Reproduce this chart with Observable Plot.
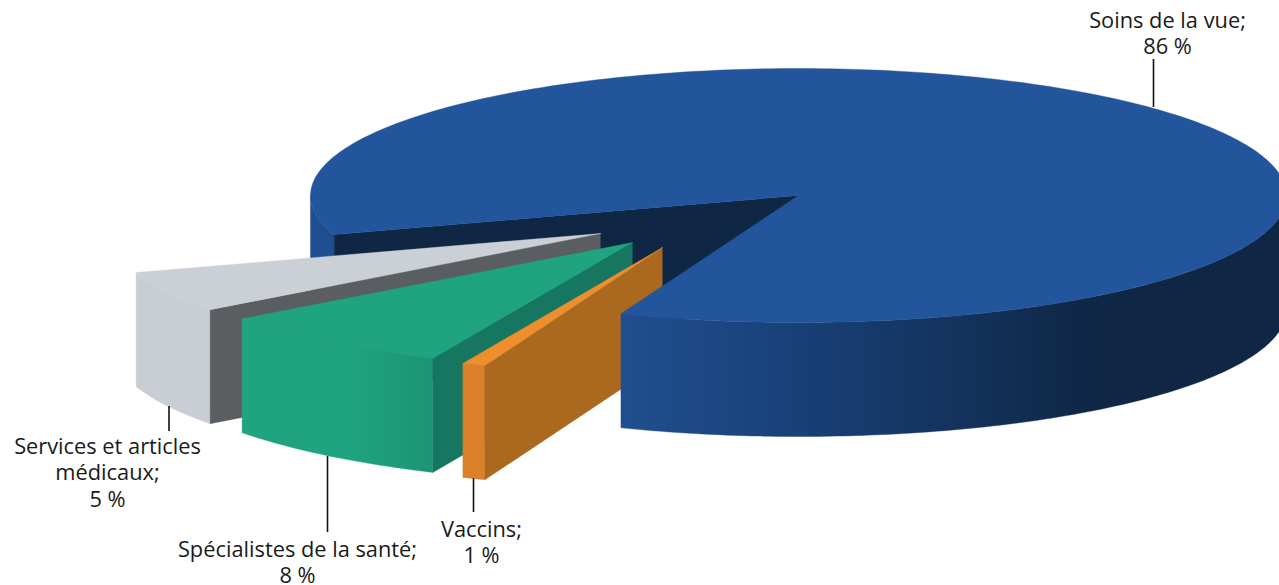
<!DOCTYPE html>
<html><head><meta charset="utf-8">
<script src="https://cdn.jsdelivr.net/npm/d3@7"></script>
<script src="https://cdn.jsdelivr.net/npm/@observablehq/plot@0.6"></script>
<style>html,body{margin:0;padding:0;background:#fff}svg{display:block}</style>
</head><body><div id="chart"></div>
<script>
// Data: shares as read from the slice sweeps; the labels print them rounded
const categories = ["Soins de la vue", "Vaccins", "Spécialistes de la santé", "Services et articles médicaux"];
const shares = [85.9, 0.78, 8.05, 5.27];
const labelTexts = ["Soins de la vue;\n86 %", "Vaccins;\n1 %", "Spécialistes de la santé;\n8 %", "Services et articles\nmédicaux;\n5 %"];

// Layout (pie projection, separate from the data)
const W = 1279, H = 585;
const pie = {cx: 798, cy: 195, rx: 488, ry: 127, depth: 114, startDeg: 162.1};
const apexes = [[798, 195], [662, 247], [632, 242], [600, 233]];
const labelAt = [[1167, 8.5], [481, 517.5], [297, 537.5], [107, 434.5]];
const leaders = [[1153, 59, 107], [473, 478, 512], [327, 456, 532], [168.5, 406, 431]];
const colors = {
  top:  ["#22559b", "#ee8e2c", "#1fa47f", "#cbd0d6"],
  side: ["#0f2644", "#ab6920", "#167660", "#5a5e61"]
};

// Slice angles come from the shares
let acc = pie.startDeg;
const slices = shares.map((v, i) => {
  const a0 = acc, a1 = acc + v * 3.6; acc = a1;
  return {name: categories[i], value: v, a0, a1, apex: apexes[i]};
});
const onRim = (s, deg, dz = 0) => {
  const t = deg * Math.PI / 180;
  return {x: s.apex[0] + pie.rx * Math.cos(t), y: s.apex[1] + pie.ry * Math.sin(t) + dz};
};
const arc = (s, from, to, dz = 0) => {
  const n = Math.max(2, Math.ceil(Math.abs(to - from) / 1));
  return d3.range(n + 1).map(k => onRim(s, from + (to - from) * k / n, dz));
};
const hub = (s, dz = 0) => ({x: s.apex[0], y: s.apex[1] + dz});
const topFace = s => [hub(s), ...arc(s, s.a0, s.a1), hub(s)];
const rimWall = (s, from, to) => [...arc(s, from, to), ...arc(s, to, from, pie.depth)];
const radialWall = (s, deg) => [hub(s), onRim(s, deg), onRim(s, deg, pie.depth), hub(s, pie.depth)];

const poly = (pts, fill) => Plot.line(pts, {x: "x", y: "y", fill, stroke: fill, strokeWidth: 0.4, curve: "linear"});

const grad = (id, x1, x2, stops) => (index, {x}) => {
  const g = d3.create("svg:linearGradient").attr("id", id).attr("gradientUnits", "userSpaceOnUse")
    .attr("x1", x(x1)).attr("x2", x(x2)).attr("y1", 0).attr("y2", 0);
  stops.forEach(([o, c]) => g.append("stop").attr("offset", o).attr("stop-color", c));
  return d3.create("svg:defs").call(d => d.append(() => g.node())).node();
};

const [blue, orange, green, grey] = slices;
const labels = labelTexts.map((text, i) => ({text, x: labelAt[i][0], y: labelAt[i][1]}));
const leaderRows = leaders.map(([x, y1, y2]) => ({x, y1, y2}));

const chart = Plot.plot({
  width: W, height: H, margin: 0,
  style: {background: "#fff", overflow: "hidden"},
  x: {domain: [0, W], range: [0, W], axis: null},
  y: {domain: [0, H], range: [0, H], axis: null},
  marks: [
    grad("wallBlue", 621, 1100, [[0, "#1f4f8f"], [0.4, "#183f75"], [1, "#0f2644"]]),
    grad("wallGreen", 240, 435, [[0, "#1fa47f"], [0.55, "#1fa37f"], [1, "#1c9474"]]),
    // blue: back-left rim and inner wall sit behind the pulled-out slices
    poly(rimWall(blue, blue.a0, 180), "#1f4f93"),
    poly(radialWall(blue, blue.a0), colors.side[0]),
    // grey
    poly(rimWall(grey, grey.a0, grey.a1), "#c9ced5"),
    poly(radialWall(grey, grey.a0), colors.side[3]),
    poly(topFace(grey), colors.top[3]),
    // green
    poly(rimWall(green, green.a0, green.a1), "url(#wallGreen)"),
    poly(radialWall(green, green.a0), colors.side[2]),
    poly(topFace(green), colors.top[2]),
    // orange
    poly(rimWall(orange, orange.a0, orange.a1), "#d98028"),
    poly(radialWall(orange, orange.a0), colors.side[1]),
    poly(topFace(orange), colors.top[1]),
    // blue front rim and top face
    poly(rimWall(blue, 360, blue.a1), "url(#wallBlue)"),
    poly(topFace(blue), colors.top[0]),
    // leaders and labels
    Plot.ruleX(leaderRows, {x: "x", y1: "y1", y2: "y2", stroke: "#111", strokeWidth: 1.6}),
    Plot.text(labels, {x: "x", y: "y", text: "text", lineAnchor: "top", textAnchor: "middle", lineHeight: 1.216,
      fontFamily: "Open Sans", fontSize: 21.8, fill: "#1a1a1a"})
  ]
});
document.getElementById("chart").append(chart);
</script></body></html>
